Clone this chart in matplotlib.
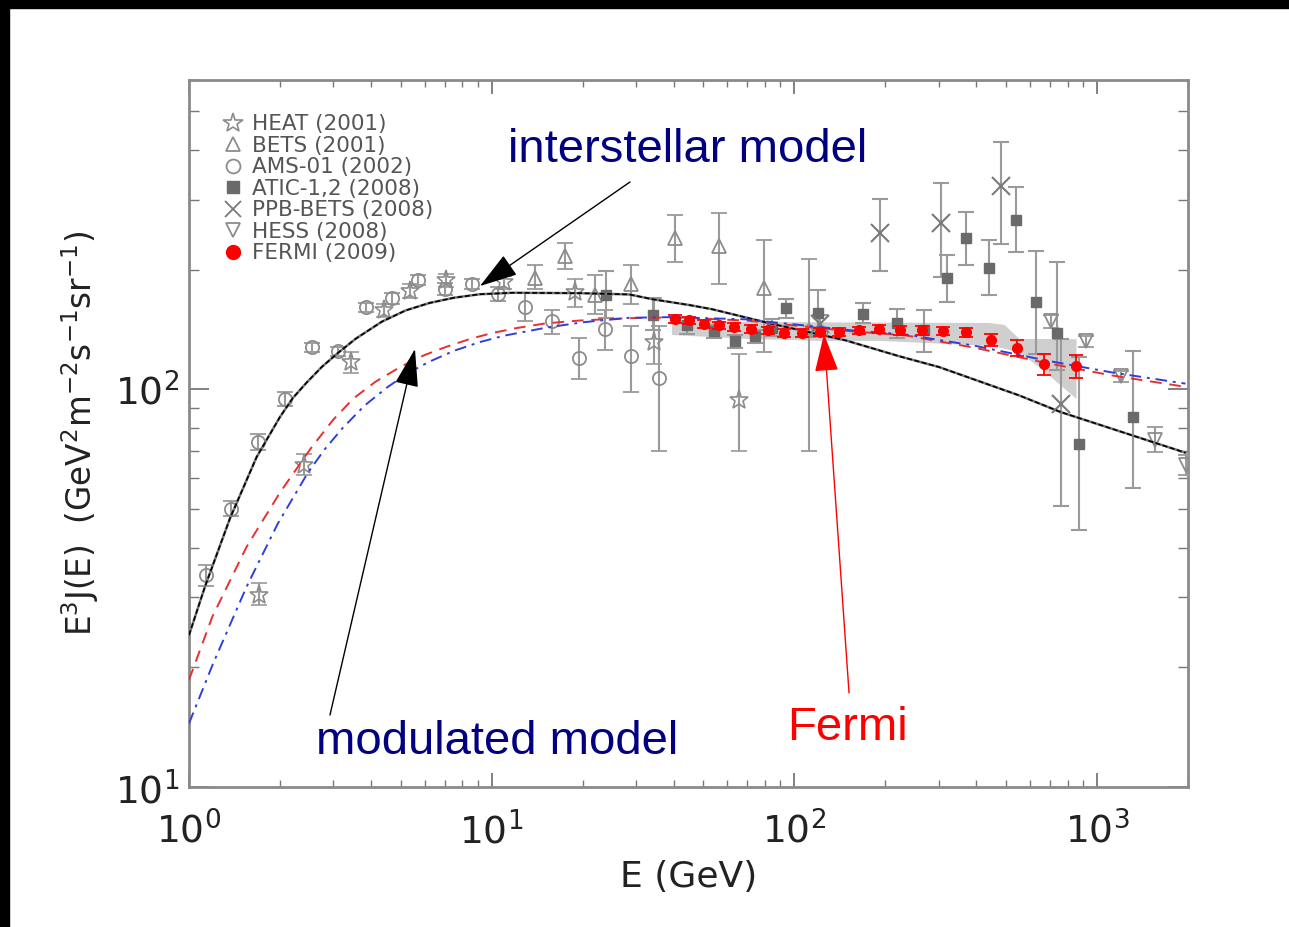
import numpy as np
import matplotlib
matplotlib.use("Agg")
import matplotlib.pyplot as plt
from matplotlib.lines import Line2D
from matplotlib.patches import Rectangle

# ---- data ----
# AMS-01 (2002): E, J, lower, upper
ams_E = [1.135, 1.38, 1.69, 2.08, 2.55, 3.10, 3.83, 4.67, 5.71, 7.03, 8.63, 10.5,
         12.85, 15.8, 19.4, 23.7, 28.9, 35.6]
ams_J = [34.1, 50.1, 73.7, 94.7, 127.7, 124.6, 161, 169.6, 188.6, 179, 184.3, 174,
         161.6, 148.5, 120, 142, 121.2, 106.8]
ams_lo = [32.1, 47.9, 70.4, 90.9, 124, 121.5, 157, 164, 183, 173, 178.5, 167,
          148.5, 138.2, 106, 125.3, 98.3, 69.9]
ams_hi = [36.2, 52.5, 77.2, 98.7, 131, 127.5, 165, 175, 194, 185, 190, 181,
          175, 158.6, 134.3, 158, 144, 144]

# HEAT (2001)
heat_E = [1.70, 2.40, 3.42, 4.40, 5.36, 7.08, 11.0, 18.9, 34.3, 65.8]
heat_J = [30.4, 64.4, 117, 158, 177, 188, 186, 175.6, 131.5, 93.8]
heat_lo = [28.7, 60.8, 109.7, 152, 170, 181, 179, 161, 115.6, 70]
heat_hi = [32.6, 68.7, 124.1, 164, 184, 195, 193, 189, 169.6, 123]

# BETS (2001)
bets_E = [13.9, 17.5, 21.9, 28.8, 40.4, 56.6, 79.2, 112]
bets_J = [191, 217, 173, 184, 241, 230, 180, 140.7]
bets_lo = [179, 201, 155, 164, 209, 184.5, 124, 70]
bets_hi = [206, 234, 193.5, 205, 275, 277, 237, 213]

# ATIC-1,2 (2008)
atic_E = [23.8, 34.1, 44.1, 54.2, 63.9, 74.3, 84.4, 93.9, 119.4, 169, 219, 269,
          319, 369, 440, 539, 630, 736, 872, 1315]
atic_J = [173, 154, 145, 140, 132, 136, 143, 160, 156, 155, 147, 140.7,
          191, 240, 202, 267, 166, 139, 72.7, 85.2]
atic_lo = [151, 141, 138.2, 135, 127, 131, 136, 151.6, 137, 146.5, 135, 124,
           165.7, 205, 173, 222, 123, 112, 44.3, 56.6]
atic_hi = [199, 169.6, 151.6, 145, 137, 141, 150, 168.5, 178, 164.5, 159.7, 158,
           218, 280, 237, 322, 223, 209, 120.5, 125]

# PPB-BETS (2008)
ppb_E = [122, 192, 305, 483, 759]
ppb_J = [146, 248, 262, 325.6, 92]
ppb_lo = [138, 198, 192, 232, 50.8]
ppb_hi = [154, 301, 331, 418, 134]

# HESS (2008)
hess_E = [706, 918, 1197, 1553, 1963]
hess_J = [148.5, 132, 108, 74.5, 64.4]
hess_lo = [143, 128, 104.4, 69.6, 60.8]
hess_hi = [154, 136, 111.2, 80.5, 68.2]

# FERMI (2009)
fermi_E = [40.5, 45.0, 50.5, 56.2, 63.4, 71.9, 81.6, 92.7, 106, 121.8, 140.6,
           163.8, 190.8, 223, 264, 311, 370, 446, 543, 671, 855]
fermi_J = [150.6, 149.1, 146.3, 144.8, 143.4, 142.1, 140.7, 138.8, 138.8, 139.3,
           139.3, 140.7, 142.1, 140.7, 140.7, 140.2, 139.3, 133.5, 127.3, 115.6, 114.4]
fermi_err = [3.4, 3.4, 3.3, 3.3, 3.3, 3.3, 3.2, 3.2, 3.2, 3.2, 3.2, 3.2, 3.3,
             3.3, 3.4, 3.5, 3.8, 4.6, 5.8, 6.8, 7.8]

# Fermi systematic band
band_E = [39.3, 71.0, 121, 191, 440, 493, 553, 644, 853]
band_lo = [137.4, 134.3, 132.8, 132.8, 129, 127, 123.9, 114, 94.9]
band_hi = [150, 148.2, 147.9, 147.7, 147.3, 145.7, 134.3, 134.3, 134.1]

# model curves
ism_E = [1.0, 1.129, 1.366, 1.673, 1.997, 2.2, 2.446, 2.75, 3.086, 3.55, 4.335,
         5.2, 6.24, 7.5, 9.13, 11.73, 19.5, 28.5, 34.1, 45.0, 53.7, 82.7, 148,
         222, 301, 553, 759, 1962]
ism_J = [24.1, 31.9, 47.4, 67.6, 85.2, 95, 104, 114, 123, 134, 148,
         158, 165, 170, 173.5, 175, 174.6, 173.3, 168.5, 163, 159, 146.7, 132.8,
         121.2, 113.8, 96.6, 87.7, 69.3]

red_E = [1.0, 1.194, 1.55, 2.0, 2.527, 3.0, 3.5, 4.13, 5.0, 6.0, 7.09, 8.5, 10.0,
         12.0, 15.0, 19.5, 28.5, 39.7, 69.3, 155.4, 233.7, 398, 677, 1123, 1962]
red_J = [18.6, 26.8, 40.2, 55.1, 71.1, 84, 95, 104.5, 114, 122, 128, 134, 138.5,
         142.5, 146.5, 149, 151.1, 151.7, 149, 139.9, 136.7, 127.1, 116.6, 108.4, 101.5]

blue_E = [1.0, 1.203, 1.55, 1.966, 2.46, 2.8, 3.22, 3.8, 4.5, 5.3, 6.24, 7.5, 9.13,
          11.0, 15.16, 20.0, 28.5, 39.7, 69.3, 155.4, 233.7, 398, 677, 1123, 1962]
blue_J = [14.45, 20.5, 31.9, 46.0, 61.4, 70.5, 80, 91, 101, 110, 117.5, 125, 131.5,
          136.5, 143, 147.5, 151.4, 152, 150, 140.7, 137.4, 128.6, 118.3, 110.3, 103.4]

labels = ["HEAT (2001)", "BETS (2001)", "AMS-01 (2002)", "ATIC-1,2 (2008)",
          "PPB-BETS (2008)", "HESS (2008)", "FERMI (2009)"]

plt.rcParams['font.family'] = ['DejaVu Sans']

fig = plt.figure(figsize=(12.89, 9.27), dpi=100)
ax = fig.add_axes([0.14663, 0.15102, 0.77502, 0.76268])

# black frame bits along top and left edge of the screenshot
fig.patches.append(Rectangle((0, 1 - 8 / 927), 1, 8 / 927, transform=fig.transFigure,
                             color='black', zorder=0))
fig.patches.append(Rectangle((0, 0), 9 / 1289, 1, transform=fig.transFigure,
                             color='black', zorder=0))

grey = '#8c8c8c'
ebar = dict(ecolor='#9a9a9a', elinewidth=1.5, capsize=6, capthick=1.5, linestyle='none')


def yerr(J, lo, hi):
    J = np.array(J)
    return [J - np.array(lo), np.array(hi) - J]


ax.fill_between(band_E, band_lo, band_hi, color='#cfcfcf', lw=0, zorder=1)

ax.errorbar(ams_E, ams_J, yerr=yerr(ams_J, ams_lo, ams_hi), marker='o', ms=9.5,
            mfc='none', mec=grey, mew=1.3, zorder=3, **ebar)
ax.errorbar(heat_E, heat_J, yerr=yerr(heat_J, heat_lo, heat_hi), marker='*', ms=14,
            mfc='none', mec=grey, mew=1.2, zorder=3, **ebar)
ax.errorbar(bets_E, bets_J, yerr=yerr(bets_J, bets_lo, bets_hi), marker='^', ms=10,
            mfc='none', mec=grey, mew=1.3, zorder=3, **ebar)
ax.errorbar(atic_E, atic_J, yerr=yerr(atic_J, atic_lo, atic_hi), marker='s', ms=7.5,
            mfc='#6a6a6a', mec='#6a6a6a', zorder=3, **ebar)
ax.errorbar(ppb_E, ppb_J, yerr=yerr(ppb_J, ppb_lo, ppb_hi), marker='x', ms=13,
            mec='#7a7a7a', mew=1.5, zorder=3, **ebar)
ax.errorbar(hess_E, hess_J, yerr=yerr(hess_J, hess_lo, hess_hi), marker='v', ms=10,
            mfc='none', mec=grey, mew=1.3, zorder=3, **ebar)

# models
ax.plot(ism_E, ism_J, color='#777777', lw=1.8, zorder=4)
ax.plot(ism_E, ism_J, color='black', lw=1.2, dashes=(3, 1.5), zorder=4)
ax.plot(red_E, red_J, color='#e8302e', lw=1.4, dashes=(6, 4), zorder=4)
ax.plot(blue_E, blue_J, color='#2f3fd8', lw=1.4, dashes=(6, 3, 1.5, 3), zorder=4)

ax.errorbar(fermi_E, fermi_J, yerr=fermi_err, marker='o', ms=7, color='#ff0000',
            ecolor='#ff0000', elinewidth=1.3, capsize=5, capthick=1.3,
            linestyle='none', zorder=5)

ax.set_xscale('log')
ax.set_yscale('log')
ax.set_xlim(1, 2000)
ax.set_ylim(10, 600)

for s in ax.spines.values():
    s.set_color('#8a8a8a')
    s.set_linewidth(2)

ax.tick_params(which='both', direction='in', top=True, right=True, color='#777777')
ax.tick_params(axis='x', which='major', length=10, width=1.3, pad=18,
               labelsize=27, labelcolor='#222222')
ax.tick_params(axis='x', which='minor', length=5, width=1.0)
ax.tick_params(axis='y', which='major', length=14.5, width=1.3, pad=7,
               labelsize=27, labelcolor='#222222')
ax.tick_params(axis='y', which='minor', length=7.2, width=1.0)
ax.set_yticks([10, 100])
ax.set_yticklabels([r'$10^1$', r'$10^2$'])
ax.set_xticks([1, 10, 100, 1000])
ax.set_xticklabels([r'$10^0$', r'$10^1$', r'$10^2$', r'$10^3$'])

ax.set_xlabel('E (GeV)', fontsize=26, color='#222222', labelpad=6)
ax.set_ylabel(r'E$^3$J(E)  (GeV$^2$m$^{-2}$s$^{-1}$sr$^{-1}$)', fontsize=23.5,
              color='#222222', labelpad=10)

# legend
handles = [
    Line2D([], [], marker='*', ms=15, mfc='none', mec=grey, mew=1.2, ls='none'),
    Line2D([], [], marker='^', ms=10, mfc='none', mec=grey, mew=1.3, ls='none'),
    Line2D([], [], marker='o', ms=10, mfc='none', mec=grey, mew=1.3, ls='none'),
    Line2D([], [], marker='s', ms=9, mfc='#6a6a6a', mec='#6a6a6a', ls='none'),
    Line2D([], [], marker='x', ms=12, mec='#7a7a7a', mew=1.3, ls='none'),
    Line2D([], [], marker='v', ms=10, mfc='none', mec=grey, mew=1.3, ls='none'),
    Line2D([], [], marker='o', ms=10, mfc='#ff0000', mec='#ff0000', ls='none'),
]
leg = ax.legend(handles, labels, loc='upper left', bbox_to_anchor=(0.0244, 0.9638),
                frameon=False, fontsize=15.5, labelspacing=0.07, handlelength=1.0,
                handletextpad=0.4, borderaxespad=0)
for t in leg.get_texts():
    t.set_color('#555555')

# annotations
navy = '#000080'
ax.text(0.3193, 0.901, 'interstellar model', transform=ax.transAxes, fontsize=34,
        family='Liberation Sans', color=navy, va='center', ha='left')
ax.text(0.1271, 0.0636, 'modulated model', transform=ax.transAxes, fontsize=34,
        family='Liberation Sans', color=navy, va='center', ha='left')
ax.text(0.5986, 0.0835, 'Fermi', transform=ax.transAxes, fontsize=34,
        family='Liberation Sans', color='#ff0000', va='center', ha='left')

arrow_k = dict(arrowstyle='-|>,head_length=2.4,head_width=0.75', color='black', lw=1.0,
               shrinkA=0, shrinkB=0, mutation_scale=10)
ax.annotate('', xy=(0.2913, 0.7086), xytext=(0.4414, 0.8557), xycoords='axes fraction',
            arrowprops=arrow_k, zorder=6)
ax.annotate('', xy=(0.2262, 0.6195), xytext=(0.1411, 0.1018), xycoords='axes fraction',
            arrowprops=arrow_k, zorder=6)
arrow_r = dict(arrow_k, color='#ff0000')
ax.annotate('', xy=(0.6356, 0.6407), xytext=(0.6607, 0.133), xycoords='axes fraction',
            arrowprops=arrow_r, zorder=6)

fig.savefig('out.png', dpi=100)
